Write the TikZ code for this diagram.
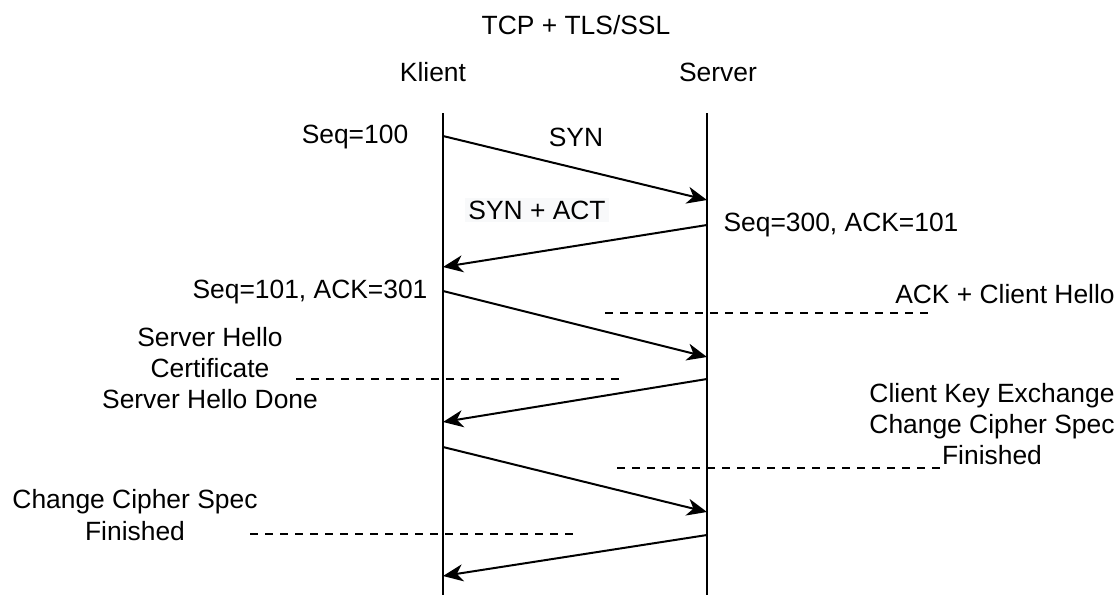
\documentclass[tikz,border=0pt]{standalone}
\usepackage{fontspec}
\setmainfont{Liberation Sans}
\usepackage{xcolor}
\usepackage{tikz}
\usetikzlibrary{calc}
\usetikzlibrary{arrows.meta}
\usetikzlibrary{positioning}

\definecolor{labelbg}{RGB}{248,249,250}

\begin{document}
\begin{tikzpicture}[x=0.5pt, y=-0.5pt,
    txt/.style={inner sep=0pt, align=center,
        font=\fontsize{13.2pt}{15.6pt}\selectfont},
    lifeline/.style={line width=1pt},
    msg/.style={line width=1pt,
        -{Stealth[length=10pt, width=8.5pt, inset=3pt]}},
    sep/.style={line width=0.75pt, dash pattern=on 4pt off 3.5pt}]

        \useasboundingbox (0,0) rectangle (1120,595);

        % Heading and the two parties
        \node[txt] (title) at (576,25) {TCP + TLS/SSL};
        \node[txt] (klient) at (433,72) {Klient};
        \node[txt] (server) at (718,72) {Server};

        % Lifelines
        \coordinate (ktop) at (443,113);
        \coordinate (kbot) at (443,595);
        \coordinate (stop) at (707,113);
        \coordinate (sbot) at (707,595);

        % Where the messages leave and reach the lifelines
        \coordinate (k1) at (443,136);
        \coordinate (s1) at (707,200);
        \coordinate (s2) at (707,225);
        \coordinate (k2) at (443,267);
        \coordinate (k3) at (443,291);
        \coordinate (s3) at (707,357);
        \coordinate (s4) at (707,379);
        \coordinate (k4) at (443,422);
        \coordinate (k5) at (443,447);
        \coordinate (s5) at (707,512);
        \coordinate (s6) at (707,535);
        \coordinate (k6) at (443,576);

        % Labels
        \node[txt] (seq1) at (355,137) {Seq=100};
        \node[txt] (syn) at (576,137) {SYN};
        \node[txt, fill=labelbg, inner sep=1.5pt] (synack) at (537,210)
        {SYN + ACT};
        \node[txt] (seq2) at (841,225) {Seq=300, ACK=101};
        \node[txt] (seq3) at (310,292) {Seq=101, ACK=301};
        \node[txt] (hello) at (1005,294) {ACK + Client Hello};
        \node[txt] (shello) at (210,368)
        {Server Hello\\Certificate\\Server Hello Done};
        \node[txt] (keyx) at (992,424)
        {Client Key Exchange\\Change Cipher Spec\\Finished};
        \node[txt] (ccs) at (135,515) {Change Cipher Spec\\Finished};

        % Ends of the dashed separators
        \coordinate (d1a) at (605,313);
        \coordinate (d1b) at (930,313);
        \coordinate (d2a) at (296,379);
        \coordinate (d2b) at (620,379);
        \coordinate (d3a) at (617,468);
        \coordinate (d3b) at (942,468);
        \coordinate (d4a) at (250,534);
        \coordinate (d4b) at (577,534);

        \begin{scope}
            \draw[lifeline] (ktop) -- (kbot);
            \draw[lifeline] (stop) -- (sbot);

            \foreach\x in {1,...,4}
            \draw[sep] (d\x a) -- (d\x b);

            \foreach\x in {1,3,5}
            \draw[msg] (k\x) -- (s\x);
            \foreach\x in {2,4,6}
            \draw[msg] (s\x) -- (k\x);
        \end{scope}

\end{tikzpicture}
\end{document}
